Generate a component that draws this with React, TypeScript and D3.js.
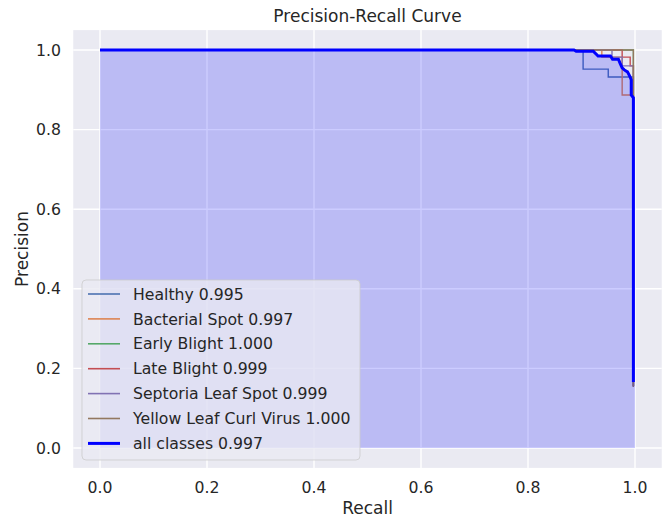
import React from "react";
import * as d3 from "d3";

const W = 665;
const H = 519;

const ticks = [0, 0.2, 0.4, 0.6, 0.8, 1.0];
const tickLabels = ["0.0", "0.2", "0.4", "0.6", "0.8", "1.0"];

const classNames = [
  "Healthy 0.995",
  "Bacterial Spot 0.997",
  "Early Blight 1.000",
  "Late Blight 0.999",
  "Septoria Leaf Spot 0.999",
  "Yellow Leaf Curl Virus 1.000",
];
const classColors = ["#4c72b0", "#dd8452", "#55a868", "#c44e52", "#8172b3", "#937860"];

// step-after breakpoints (recall, precision) per class
const healthyRecall = [0, 0.903, 0.95, 0.997];
const healthyPrecision = [1, 0.952, 0.932, 0.155];
const bacterialRecall = [0, 0.938, 0.976, 0.997];
const bacterialPrecision = [1, 0.982, 0.887, 0.155];
const earlyRecall = [0, 0.997];
const earlyPrecision = [1, 0.155];
const lateRecall = [0, 0.976, 0.991, 0.997];
const latePrecision = [1, 0.982, 0.96, 0.155];
const septoriaRecall = [0, 0.957, 0.976, 0.997];
const septoriaPrecision = [1, 0.982, 0.96, 0.155];
const yellowRecall = [0, 0.997];
const yellowPrecision = [1, 0.153];

const classRecalls = [healthyRecall, bacterialRecall, earlyRecall, lateRecall, septoriaRecall, yellowRecall];
const classPrecisions = [healthyPrecision, bacterialPrecision, earlyPrecision, latePrecision, septoriaPrecision, yellowPrecision];

// mean curve ("all classes")
const meanLabel = "all classes 0.997";
const meanRecall = [0, 0.886, 0.89, 0.922, 0.931, 0.954, 0.958, 0.969, 0.972, 0.976, 0.98, 0.986, 0.991, 0.993, 0.993, 0.997, 0.997];
const meanPrecision = [1, 1, 0.997, 0.997, 0.985, 0.985, 0.977, 0.977, 0.967, 0.955, 0.95, 0.945, 0.932, 0.925, 0.887, 0.88, 0.166];

export default function App() {
  const left = 73.25, right = 661.75, top = 30.1, bottom = 467.9;
  const x = d3.scaleLinear().domain([-0.05, 1.05]).range([left, right]);
  const y = d3.scaleLinear().domain([-0.05, 1.05]).range([bottom, top]);
  const font = "DejaVu Sans, sans-serif";
  const txt = "#262626";

  const stepLine = d3
    .line<[number, number]>()
    .x((d) => x(d[0]))
    .y((d) => y(d[1]))
    .curve(d3.curveStepAfter);
  const linLine = d3
    .line<[number, number]>()
    .x((d) => x(d[0]))
    .y((d) => y(d[1]));

  const meanPts: [number, number][] = meanRecall.map((r, i) => [r, meanPrecision[i]]);
  const fillPts: [number, number][] = [...meanPts, [1.0, meanPrecision[meanPrecision.length - 1]]];
  const area = d3
    .area<[number, number]>()
    .x((d) => x(d[0]))
    .y0(y(0))
    .y1((d) => y(d[1]));

  const legendItems = [...classNames.map((n, i) => ({ n, c: classColors[i], w: 1.6 })), { n: meanLabel, c: "#0000ff", w: 3 }];

  return (
    <svg width={W} height={H} style={{ position: "absolute", left: 0, top: 0 }} fontFamily={font}>
      <rect x={0} y={0} width={W} height={H} fill="#ffffff" />
      <rect x={left} y={top} width={right - left} height={bottom - top} fill="#eaeaf2" />
      {ticks.map((t) => (
        <g key={"g" + t}>
          <line x1={x(t)} x2={x(t)} y1={top} y2={bottom} stroke="#ffffff" strokeWidth={1.4} />
          <line x1={left} x2={right} y1={y(t)} y2={y(t)} stroke="#ffffff" strokeWidth={1.4} />
        </g>
      ))}
      {classRecalls.map((rs, i) => (
        <path
          key={"c" + i}
          d={stepLine(rs.map((r, j) => [r, classPrecisions[i][j]] as [number, number])) || ""}
          fill="none"
          stroke={classColors[i]}
          strokeWidth={1.4}
        />
      ))}
      <path d={area(fillPts) || ""} fill="#0000ff" fillOpacity={0.2} />
      <path d={linLine(meanPts) || ""} fill="none" stroke="#0000ff" strokeWidth={3} />
      {ticks.map((t, i) => (
        <text key={"xt" + t} x={x(t)} y={493} textAnchor="middle" fontSize={15.7} fill={txt}>
          {tickLabels[i]}
        </text>
      ))}
      {ticks.map((t, i) => (
        <text key={"yt" + t} x={61} y={y(t) + 5.6} textAnchor="end" fontSize={15.7} fill={txt}>
          {tickLabels[i]}
        </text>
      ))}
      <text x={(left + right) / 2} y={514} textAnchor="middle" fontSize={17} fill={txt}>
        Recall
      </text>
      <text
        transform={`translate(28,${(top + bottom) / 2}) rotate(-90)`}
        textAnchor="middle"
        fontSize={17}
        fill={txt}
      >
        Precision
      </text>
      <text x={(left + right) / 2} y={22} textAnchor="middle" fontSize={17} fill={txt}>
        Precision-Recall Curve
      </text>
      <g>
        <rect x={82} y={280} width={278} height={180} rx={4} fill="#eaeaf2" fillOpacity={0.8} stroke="#cccccc" strokeOpacity={0.8} strokeWidth={1} />
        {legendItems.map((it, i) => {
          const cy = 294 + i * 24.9;
          return (
            <g key={"l" + i}>
              <line x1={88} x2={120} y1={cy} y2={cy} stroke={it.c} strokeWidth={it.w} />
              <text x={133} y={cy + 5.6} fontSize={15.7} fill={txt}>
                {it.n}
              </text>
            </g>
          );
        })}
      </g>
    </svg>
  );
}
